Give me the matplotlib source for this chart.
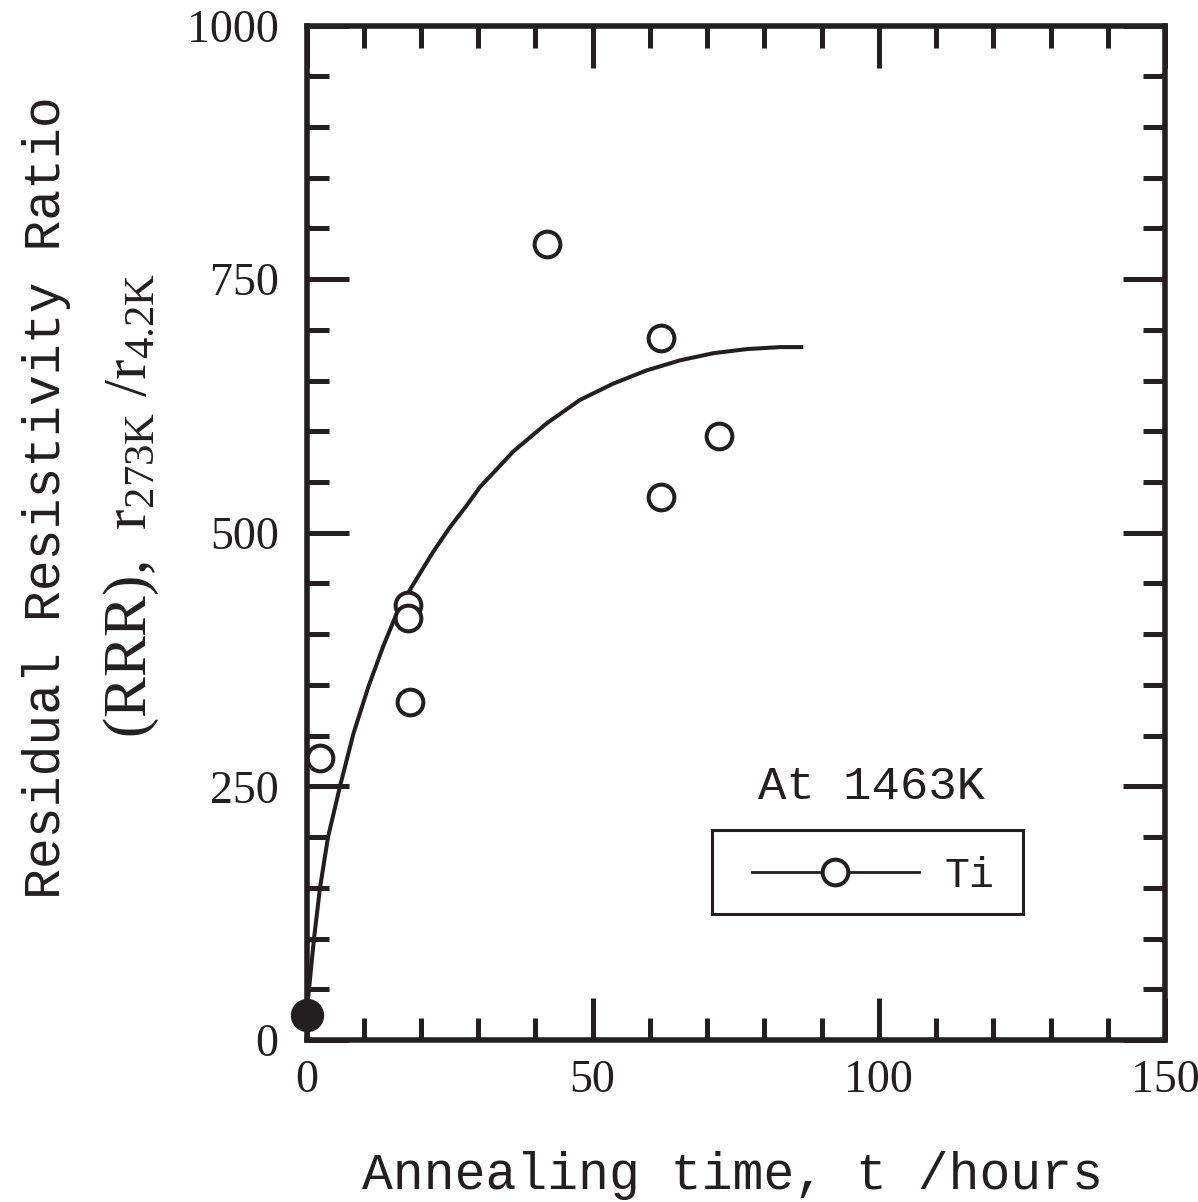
import matplotlib
matplotlib.use("Agg")
import matplotlib.pyplot as plt
from matplotlib.patches import Rectangle
from matplotlib.lines import Line2D

# ---- data ----
t_open = [2.4, 17.8, 17.8, 18.1, 42.0, 62.0, 62.0, 72.0]
rrr_open = [278, 429, 416, 333, 785, 692, 535, 595]
t_initial = [0.0]
rrr_initial = [25]
t_fit = [0.0, 0.44, 1.31, 2.36, 3.76, 5.85, 8.2, 10.8, 13.4, 15.8, 18.1,
         22.0, 25.0, 28.0, 30.3, 33.8, 36.1, 42.0, 47.8, 53.6, 59.4, 65.3,
         71.1, 76.9, 82.7, 86.8]
rrr_fit = [25, 50, 100, 150, 200, 250, 302, 348, 388, 421, 444,
           480, 505, 527, 545, 566, 580, 608, 631, 647, 660, 670,
           677, 681, 683, 683]
x_ticks = [0, 50, 100, 150]
y_ticks = [0, 250, 500, 750, 1000]

INK = "#231f20"
MONO = "Liberation Mono"
SERIF = "Liberation Serif"

plt.rcParams["mathtext.fontset"] = "custom"
plt.rcParams["mathtext.rm"] = SERIF
plt.rcParams["mathtext.it"] = SERIF

W, H = 1198, 1202
fig = plt.figure(figsize=(W / 100, H / 100), dpi=100)
ax = fig.add_axes([306.5 / W, 1 - 1040 / H, 858.5 / W, 1014.5 / H])

ax.plot(t_fit, rrr_fit, color=INK, lw=2.9, zorder=3,
        solid_capstyle="butt", solid_joinstyle="round")
ax.plot(t_open, rrr_open, linestyle="none", marker="o", ms=18.5,
        mfc="white", mec=INK, mew=2.9, zorder=4)
ax.plot(t_initial, rrr_initial, linestyle="none", marker="o", ms=23,
        mfc=INK, mec=INK, zorder=6, clip_on=False)

ax.set_xlim(0, 150)
ax.set_ylim(0, 1000)
ax.set_xticks(x_ticks)
ax.set_yticks(y_ticks)
ax.set_xticks(range(0, 151, 10), minor=True)
ax.set_yticks(range(0, 1001, 50), minor=True)

for s in ax.spines.values():
    s.set_linewidth(4.0)
    s.set_color(INK)
    s.set_zorder(5)

ax.tick_params(which="both", direction="in", top=True, right=True,
               color=INK, width=3.6)
ax.tick_params(which="major", length=30)
ax.tick_params(which="minor", length=16)
ax.tick_params(axis="y", which="major", pad=20)
ax.tick_params(axis="x", which="major", pad=14)
for lab in ax.get_xticklabels() + ax.get_yticklabels():
    lab.set_fontfamily(SERIF)
    lab.set_fontsize(33)
    lab.set_color(INK)

# legend (frame drawn as a separate rectangle)
h = Line2D([], [], color=INK, lw=2.0, marker="o", ms=18.5, mfc="white",
           mec=INK, mew=2.9)
leg = ax.legend([h], ["Ti"], loc="center left",
                bbox_to_anchor=((752 - 306.5) / 858.5, (1040 - 875.7) / 1014.5),
                frameon=False, borderpad=0, borderaxespad=0, numpoints=1,
                handlelength=4.0, handletextpad=0.62,
                prop={"family": MONO, "size": 30})
for t in leg.get_texts():
    t.set_color(INK)
ax.add_patch(Rectangle(((712 - 306.5) / 858.5, (1040 - 914) / 1014.5),
                       (1023 - 712) / 858.5, (914 - 830) / 1014.5,
                       transform=ax.transAxes, fill=False, ec=INK, lw=2.2,
                       zorder=7))

ax.text((871 - 306.5) / 858.5, (1040 - 799) / 1014.5, "At 1463K",
        transform=ax.transAxes, ha="center", va="baseline",
        fontfamily=MONO, fontsize=34, color=INK)

# axis labels
fig.text(733 / W, 1 - 1189 / H, "Annealing time, t /hours",
         ha="center", va="baseline", fontfamily=MONO, fontsize=37, color=INK)
fig.text(60 / W, 1 - 498 / H, "Residual Resistivity Ratio",
         rotation=90, rotation_mode="anchor", ha="center", va="baseline",
         fontfamily=MONO, fontsize=37, color=INK)
fig.text(146 / W, 1 - 505 / H,
         r"(RRR),  r$_{\mathrm{273K}}$ /r$_{\mathrm{4.2K}}$",
         rotation=90, rotation_mode="anchor", ha="center", va="baseline",
         fontfamily=SERIF, fontsize=44, color=INK)

fig.savefig("out.png", dpi=100, facecolor="white")
